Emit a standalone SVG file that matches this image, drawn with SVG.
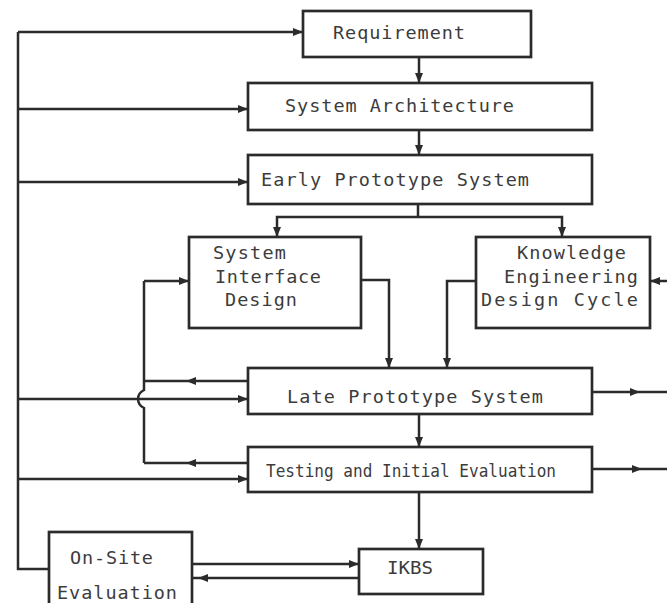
<svg xmlns="http://www.w3.org/2000/svg" width="667" height="603" viewBox="0 0 667 603">
  <style>
    .box { fill: #ffffff; stroke: #2b2b2b; stroke-width: 2.7; }
    .ln { fill: none; stroke: #2b2b2b; stroke-width: 2.5; }
    .lbl { font-family: "DejaVu Sans Mono", "Liberation Mono", monospace; font-size: 18.5px; fill: #3c3c3c; }
  </style>
  <defs>
    <marker id="ah" viewBox="0 0 10 8" refX="10" refY="4" markerWidth="10" markerHeight="8" markerUnits="userSpaceOnUse" orient="auto">
      <path d="M0,0 L10,4 L0,8 Z" fill="#2b2b2b"/>
    </marker>
  </defs>
  <rect width="667" height="603" fill="#ffffff"/>

  <g id="connectors">
    <!-- feedback bus on the left -->
    <path class="ln" d="M18 32 V569 H49"/>
    <path class="ln" d="M18 32 H303" marker-end="url(#ah)"/>
    <path class="ln" d="M18 109 H248" marker-end="url(#ah)"/>
    <path class="ln" d="M18 182 H248" marker-end="url(#ah)"/>
    <path class="ln" d="M18 399 H248" marker-end="url(#ah)"/>
    <path class="ln" d="M18 479 H248" marker-end="url(#ah)"/>

    <!-- main downward flow -->
    <path class="ln" d="M419 57 V83" marker-end="url(#ah)"/>
    <path class="ln" d="M419 130 V155" marker-end="url(#ah)"/>
    <path class="ln" d="M418 204 V217"/>
    <path class="ln" d="M418 217 H277 V237" marker-end="url(#ah)"/>
    <path class="ln" d="M418 217 H562 V237" marker-end="url(#ah)"/>
    <path class="ln" d="M361 280 H389 V368" marker-end="url(#ah)"/>
    <path class="ln" d="M476 281 H447 V368" marker-end="url(#ah)"/>
    <path class="ln" d="M419 414 V447" marker-end="url(#ah)"/>
    <path class="ln" d="M419 492 V549" marker-end="url(#ah)"/>

    <!-- inner loop back to interface design, with a hop over the bus branch -->
    <path class="ln" d="M144 281 V390 Q138 393 138 399 Q138 405 144 408 V463"/>
    <path class="ln" d="M144 281 H189" marker-end="url(#ah)"/>
    <path class="ln" d="M248 381 H186" marker-end="url(#ah)"/>
    <path class="ln" d="M186 381 H144"/>
    <path class="ln" d="M248 463 H186" marker-end="url(#ah)"/>
    <path class="ln" d="M186 463 H144"/>

    <!-- outputs and inputs on the right -->
    <path class="ln" d="M592 392 H640" marker-end="url(#ah)"/>
    <path class="ln" d="M640 392 H667"/>
    <path class="ln" d="M592 469 H642" marker-end="url(#ah)"/>
    <path class="ln" d="M642 469 H667"/>
    <path class="ln" d="M667 281 H650" marker-end="url(#ah)"/>

    <!-- field evaluation loop -->
    <path class="ln" d="M192 564 H359" marker-end="url(#ah)"/>
    <path class="ln" d="M359 578 H198" marker-end="url(#ah)"/>
    <path class="ln" d="M198 578 H192"/>
  </g>

  <g id="requirement">
    <rect class="box" x="303" y="11" width="228" height="46"/>
    <text class="lbl" x="333" y="39" textLength="132" lengthAdjust="spacing">Requirement</text>
  </g>
  <g id="system-architecture">
    <rect class="box" x="248" y="83" width="344" height="47"/>
    <text class="lbl" x="285" y="112" textLength="229" lengthAdjust="spacing">System Architecture</text>
  </g>
  <g id="early-prototype">
    <rect class="box" x="248" y="155" width="344" height="49"/>
    <text class="lbl" x="261" y="186" textLength="268" lengthAdjust="spacing">Early Prototype System</text>
  </g>
  <g id="interface-design">
    <rect class="box" x="189" y="237" width="172" height="91"/>
    <text class="lbl" x="213" y="259" textLength="73" lengthAdjust="spacing">System</text>
    <text class="lbl" x="215" y="283" textLength="106" lengthAdjust="spacing">Interface</text>
    <text class="lbl" x="225" y="306" textLength="72" lengthAdjust="spacing">Design</text>
  </g>
  <g id="knowledge-engineering">
    <rect class="box" x="476" y="237" width="174" height="91"/>
    <text class="lbl" x="517" y="259" textLength="109" lengthAdjust="spacing">Knowledge</text>
    <text class="lbl" x="504" y="283" textLength="134" lengthAdjust="spacing">Engineering</text>
    <text class="lbl" x="481" y="306" textLength="157" lengthAdjust="spacing">Design  Cycle</text>
  </g>
  <g id="late-prototype">
    <rect class="box" x="248" y="368" width="344" height="46"/>
    <text class="lbl" x="287" y="403" textLength="256" lengthAdjust="spacing">Late Prototype System</text>
  </g>
  <g id="testing">
    <rect class="box" x="248" y="447" width="344" height="45"/>
    <text class="lbl" x="266" y="477" textLength="290" lengthAdjust="spacingAndGlyphs">Testing and Initial Evaluation</text>
  </g>
  <g id="ikbs">
    <rect class="box" x="359" y="549" width="124" height="45"/>
    <text class="lbl" x="387" y="574" textLength="46" lengthAdjust="spacingAndGlyphs">IKBS</text>
  </g>
  <g id="on-site-evaluation">
    <rect class="box" x="49" y="532" width="143" height="80"/>
    <text class="lbl" x="70" y="564" textLength="83" lengthAdjust="spacing">On-Site</text>
    <text class="lbl" x="57" y="599" textLength="120" lengthAdjust="spacing">Evaluation</text>
  </g>
</svg>
